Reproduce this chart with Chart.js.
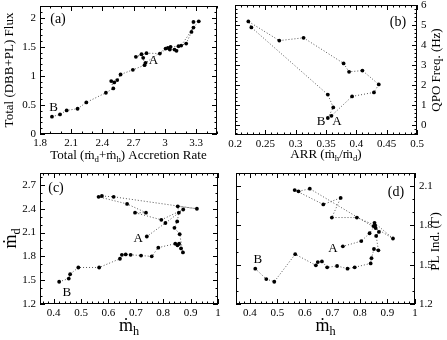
<!DOCTYPE html>
<html>
<head>
<meta charset="utf-8">
<script src="https://cdn.jsdelivr.net/npm/chart.js@4.4.1/dist/chart.umd.min.js"></script>
<style>
  html, body { margin: 0; padding: 0; background: #fff; }
  #page { position: relative; width: 447px; height: 340px; overflow: hidden; }
  canvas { position: absolute; left: -20px; top: -20px; }
</style>
</head>
<body>
<div id="page">
  <canvas id="pa" width="487" height="380"></canvas>
  <canvas id="pb" width="487" height="380"></canvas>
  <canvas id="pc" width="487" height="380"></canvas>
  <canvas id="pd" width="487" height="380"></canvas>
</div>
<script>
// panel (a): total accretion rate vs total flux
var aTotal = [1.915, 1.992, 2.056, 2.161, 2.245, 2.433, 2.504, 2.484, 2.513, 2.542, 2.574, 2.692, 2.804,
  2.791, 2.775, 2.721, 2.823, 2.951, 3.028, 3.054, 3.13, 3.204, 3.255, 3.274, 3.325, 3.274, 3.156,
  3.111, 3.092, 3.047, 3.006, 2.814];
var aFlux = [0.297, 0.337, 0.406, 0.434, 0.543, 0.709, 0.783, 0.909, 0.886, 0.926, 1.023, 1.103, 1.183,
  1.309, 1.371, 1.326, 1.389, 1.383, 1.48, 1.497, 1.509, 1.554, 1.754, 1.926, 1.937, 1.829, 1.52,
  1.429, 1.451, 1.451, 1.469, 1.223];

// panel (b): ARR vs QPO frequency
var bArr = [0.353, 0.362, 0.353, 0.227, 0.222, 0.273, 0.313, 0.379, 0.388, 0.41, 0.437, 0.429, 0.393, 0.359];
var bQpo = [0.35, 0.88, 1.52, 4.88, 5.18, 4.22, 4.36, 3.08, 2.66, 2.72, 2.03, 1.63, 1.43, 0.46];

// panel (c): mdot_h vs mdot_d
var cMh = [0.42, 0.455, 0.46, 0.49, 0.566, 0.642, 0.649, 0.663, 0.681, 0.719, 0.758, 0.782, 0.844, 0.852,
  0.858, 0.865, 0.872, 0.86, 0.841, 0.851, 0.857, 0.853, 0.923, 0.619, 0.576, 0.564, 0.668, 0.737,
  0.697, 0.793, 0.873, 0.808, 0.74];
var cMd = [1.48, 1.52, 1.575, 1.66, 1.66, 1.77, 1.82, 1.825, 1.82, 1.81, 1.80, 1.91, 1.96, 1.94,
  1.96, 1.90, 1.85, 2.08, 2.16, 2.24, 2.35, 2.43, 2.40, 2.55, 2.56, 2.55, 2.46, 2.35,
  2.35, 2.26, 2.39, 2.22, 2.05];

// panel (d): mdot_h vs PL index
var dMh = [0.42, 0.46, 0.489, 0.565, 0.64, 0.647, 0.662, 0.681, 0.717, 0.755, 0.781, 0.839, 0.842, 0.851,
  0.867, 0.859, 0.869, 0.857, 0.849, 0.853, 0.92, 0.618, 0.577, 0.563, 0.667, 0.73, 0.698, 0.789,
  0.855, 0.835, 0.805, 0.738];
var dGamma = [1.47, 1.39, 1.37, 1.58, 1.495, 1.52, 1.525, 1.48, 1.49, 1.47, 1.48, 1.51, 1.55, 1.62,
  1.61, 1.72, 1.75, 1.78, 1.795, 1.82, 1.70, 2.08, 2.06, 2.07, 1.96, 2.01, 1.86, 1.86,
  1.80, 1.74, 1.68, 1.64];

// tick labels
var aTicksX = [1.8, 2.1, 2.4, 2.7, 3, 3.3];
var aTicksY = [0, 0.5, 1, 1.5, 2];
var bTicksX = [0.2, 0.25, 0.3, 0.35, 0.4, 0.45, 0.5];
var bTicksY = [0, 1, 2, 3, 4, 5, 6];
var mhTicks = [0.4, 0.5, 0.6, 0.7, 0.8, 0.9, 1];
var cTicksY = [1.2, 1.5, 1.8, 2.1, 2.4, 2.7];
var dTicksY = [1.2, 1.5, 1.8, 2.1];

var SERIF = '"Liberation Serif", "DejaVu Serif", serif';
Chart.defaults.font.family = SERIF;
Chart.defaults.font.size = 11;
Chart.defaults.color = '#000';

var OFF = 20, CW = 487, CH = 380, YW = 30, XH = 20;

// text with subscripts; parts = [[text, isSub], ...]
function drawRich(ctx, parts, size, x, y, angle) {
  ctx.save();
  ctx.translate(x, y);
  ctx.rotate(angle || 0);
  ctx.textBaseline = 'middle';
  ctx.textAlign = 'left';
  ctx.fillStyle = '#000';
  var w = 0;
  var fonts = parts.map(function(p) { return (p[1] ? size * 0.68 : size) + 'px ' + SERIF; });
  parts.forEach(function(p, i) { ctx.font = fonts[i]; w += ctx.measureText(p[0]).width; });
  var cx = -w / 2;
  parts.forEach(function(p, i) {
    ctx.font = fonts[i];
    ctx.fillText(p[0], cx, p[1] ? size * 0.32 : 0);
    cx += ctx.measureText(p[0]).width;
  });
  ctx.restore();
}

var framePlugin = {
  id: 'frame',
  afterDraw: function(chart, args, o) {
    var ctx = chart.ctx, a = chart.chartArea, xs = chart.scales.x, ys = chart.scales.y;
    ctx.save();
    ctx.strokeStyle = '#000';
    ctx.lineWidth = 1;
    ctx.strokeRect(a.left + 0.5, a.top + 0.5, a.right - a.left - 1, a.bottom - a.top - 1);

    function minors(s, step) {
      var out = [];
      for (var i = Math.ceil(s.min / step - 1e-6); i <= Math.floor(s.max / step + 1e-6); i++) out.push(i * step);
      return out;
    }
    function xTick(v, len) {
      var px = Math.round(xs.getPixelForValue(v)) + 0.5;
      ctx.moveTo(px, a.bottom); ctx.lineTo(px, a.bottom - len);
      ctx.moveTo(px, a.top); ctx.lineTo(px, a.top + len);
    }
    function yTick(v, len) {
      var py = Math.round(ys.getPixelForValue(v)) + 0.5;
      ctx.moveTo(a.left, py); ctx.lineTo(a.left + len, py);
      ctx.moveTo(a.right, py); ctx.lineTo(a.right - len, py);
    }
    ctx.beginPath();
    minors(xs, o.xMinor).forEach(function(v) { xTick(v, 2.5); });
    minors(ys, o.yMinor).forEach(function(v) { yTick(v, 2.5); });
    xs.ticks.forEach(function(t) { xTick(t.value, 5); });
    ys.ticks.forEach(function(t) { yTick(t.value, 5); });
    ctx.stroke();

    // panel tag and A/B marks
    ctx.fillStyle = '#000';
    ctx.textAlign = 'center';
    ctx.textBaseline = 'middle';
    ctx.font = '14px ' + SERIF;
    ctx.fillText(o.tag[0], o.tag[1] < 0 ? a.right + o.tag[1] : a.left + o.tag[1], a.top + o.tag[2]);
    ctx.font = '13px ' + SERIF;
    o.notes.forEach(function(n) {
      ctx.fillText(n[0], xs.getPixelForValue(n[1]), ys.getPixelForValue(n[2]));
    });

    // axis titles
    var midX = (a.left + a.right) / 2, midY = (a.top + a.bottom) / 2;
    drawRich(ctx, o.xTitle, o.xTitleSize, midX, a.bottom + o.xTitleGap, 0);
    var yx = o.side === 'left' ? a.left - o.yTitleGap : a.right + o.yTitleGap;
    drawRich(ctx, o.yTitle, o.yTitleSize, yx, midY + (o.yTitleShift || 0), -Math.PI / 2);
    ctx.restore();
  }
};

function makePanel(id, xs, ys, o) {
  var ar = o.area;
  var pad = {
    top: ar.t + OFF,
    bottom: CH - (ar.b + OFF) - XH,
    left: o.side === 'left' ? ar.l + OFF - YW : ar.l + OFF,
    right: o.side === 'left' ? CW - (ar.r + OFF) : CW - (ar.r + OFF) - YW
  };
  var points = xs.map(function(x, i) { return { x: x, y: ys[i] }; });
  return new Chart(document.getElementById(id), {
    type: 'scatter',
    data: {
      datasets: [{
        data: points,
        showLine: true,
        borderColor: '#555',
        borderWidth: 1,
        borderDash: [1, 2],
        pointRadius: 1.9,
        pointBackgroundColor: '#000',
        pointBorderWidth: 0,
        tension: 0
      }]
    },
    options: {
      responsive: false,
      animation: false,
      events: [],
      layout: { padding: pad },
      plugins: { legend: { display: false }, tooltip: { enabled: false }, frame: o },
      scales: {
        x: {
          type: 'linear', min: o.xMin, max: o.xMax,
          grid: { display: false, drawTicks: false },
          border: { display: false },
          afterFit: function(s) { s.height = XH; },
          afterBuildTicks: function(s) { s.ticks = o.xTicks.map(function(v) { return { value: v }; }); },
          ticks: { padding: 3, autoSkip: false, maxRotation: 0, callback: function(v) { return String(v); } }
        },
        y: {
          type: 'linear', position: o.side, min: o.yMin, max: o.yMax,
          grid: { display: false, drawTicks: false },
          border: { display: false },
          afterFit: function(s) { s.width = YW; },
          afterBuildTicks: function(s) { s.ticks = o.yTicks.map(function(v) { return { value: v }; }); },
          ticks: { padding: 4, autoSkip: false, callback: function(v) { return String(v); } }
        }
      }
    },
    plugins: [framePlugin]
  });
}

makePanel('pa', aTotal, aFlux, {
  area: { l: 40, t: 6, r: 217, b: 134 }, side: 'left',
  xMin: 1.8, xMax: 3.5, yMin: 0, yMax: 2.2, xTicks: aTicksX, yTicks: aTicksY, xMinor: 0.1, yMinor: 0.1,
  tag: ['(a)', 18, 13], notes: [['B', 1.93, 0.46], ['A', 2.89, 1.26]],
  xTitleSize: 13, yTitleSize: 13, xTitleGap: 22, yTitleGap: 30,
  xTitle: [['Total (\u1E41', 0], ['d', 1], ['+\u1E41', 0], ['h', 1], [') Accretion Rate', 0]],
  yTitle: [['Total (DBB+PL) Flux', 0]]
});

makePanel('pb', bArr, bQpo, {
  area: { l: 235, t: 5, r: 417, b: 135 }, side: 'right',
  xMin: 0.2, xMax: 0.5, yMin: -0.5, yMax: 6, xTicks: bTicksX, yTicks: bTicksY, xMinor: 0.01, yMinor: 0.2,
  tag: ['(b)', -19, 17], notes: [['B', 0.342, 0.17], ['A', 0.368, 0.17]],
  xTitleSize: 13, yTitleSize: 13, xTitleGap: 20, yTitleGap: 20,
  xTitle: [['ARR (\u1E41', 0], ['h', 1], ['/\u1E41', 0], ['d', 1], [')', 0]],
  yTitle: [['QPO Freq. (Hz)', 0]]
});

makePanel('pc', cMh, cMd, {
  area: { l: 40, t: 173, r: 218, b: 304 }, side: 'left',
  xMin: 0.35, xMax: 1, yMin: 1.2, yMax: 2.85, xTicks: mhTicks, yTicks: cTicksY, xMinor: 0.02, yMinor: 0.1,
  tag: ['(c)', 16, 15], notes: [['B', 0.448, 1.34], ['A', 0.709, 2.03]],
  xTitleSize: 18, yTitleSize: 18, xTitleGap: 22, yTitleGap: 29,
  xTitle: [['\u1E41', 0], ['h', 1]],
  yTitle: [['\u1E41', 0], ['d', 1]]
});

makePanel('pd', dMh, dGamma, {
  area: { l: 236, t: 173, r: 415, b: 304 }, side: 'right',
  xMin: 0.35, xMax: 1, yMin: 1.2, yMax: 2.2, xTicks: mhTicks, yTicks: dTicksY, xMinor: 0.02, yMinor: 0.1,
  tag: ['(d)', -19, 19], notes: [['B', 0.429, 1.54], ['A', 0.702, 1.62]],
  xTitleSize: 18, yTitleSize: 13, xTitleGap: 22, yTitleGap: 21, yTitleShift: 3,
  xTitle: [['\u1E41', 0], ['h', 1]],
  yTitle: [['PL Ind. (\u0393)', 0]]
});
</script>
</body>
</html>
